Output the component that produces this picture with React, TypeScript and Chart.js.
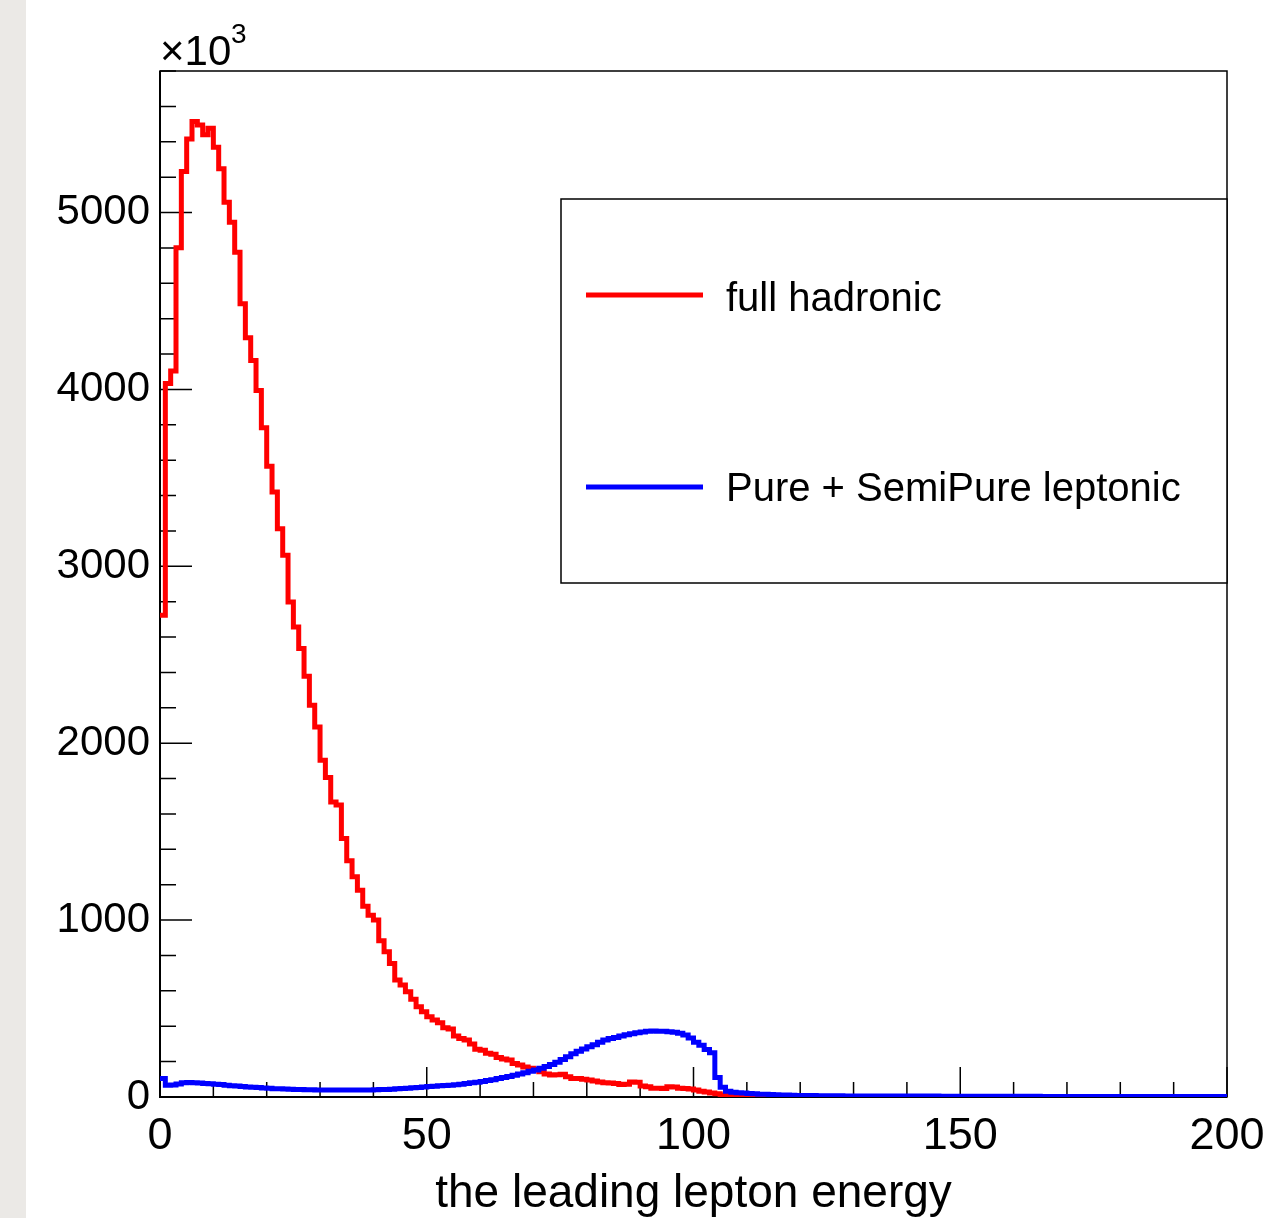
import React, { useEffect, useRef } from 'react';
import { Chart, registerables } from 'chart.js';

Chart.register(...registerables);

// Bin low edges (GeV), 200 bins of width 1 from 0 to 200, plus the final edge
const binEdges: number[] = Array.from({ length: 201 }, (_, i) => i);

// "full hadronic" bin contents (units of 10^3)
const fullHadronic: number[] = [
  2723, 4034, 4104, 4801, 5232, 5416, 5514, 5495, 5439, 5477,
  5369, 5247, 5058, 4945, 4776, 4484, 4292, 4164, 3994, 3783,
  3565, 3420, 3213, 3062, 2798, 2657, 2535, 2379, 2215, 2092,
  1904, 1806, 1668, 1650, 1462, 1335, 1245, 1169, 1079, 1028,
  1000, 883, 821, 755, 661, 633, 595, 552, 510, 482,
  454, 435, 420, 392, 385, 345, 331, 322, 300, 270,
  264, 247, 242, 224, 215, 209, 190, 181, 170, 162,
  156, 143, 130, 124, 126, 128, 115, 105, 104, 100,
  96, 90, 85, 81, 79, 77, 70, 72, 85, 84,
  62, 58, 50, 49, 48, 58, 57, 50, 48, 45,
  40, 32, 28, 22, 19, 12, 10, 7, 6, 5,
  4, 3, 3, 3, 2, 2, 2, 2, 1, 1,
  1, 1, 1, 1, 1, 1, 1, 1, 1, 1,
  1, 1, 1, 1, 1, 1, 1, 1, 1, 1,
  0, 0, 0, 0, 0, 0, 0, 0, 0, 0,
  0, 0, 0, 0, 0, 0, 0, 0, 0, 0,
  0, 0, 0, 0, 0, 0, 0, 0, 0, 0,
  0, 0, 0, 0, 0, 0, 0, 0, 0, 0,
  0, 0, 0, 0, 0, 0, 0, 0, 0, 0,
  0, 0, 0, 0, 0, 0, 0, 0, 0, 0,
];

// "Pure + SemiPure leptonic" bin contents (units of 10^3)
const leptonic: number[] = [
  105, 66, 68, 74, 80, 82, 81, 79, 77, 75,
  72, 70, 67, 64, 62, 59, 57, 55, 53, 51,
  49, 47, 46, 45, 44, 43, 42, 41, 41, 40,
  40, 39, 39, 39, 39, 39, 39, 40, 40, 40,
  41, 42, 43, 44, 46, 48, 50, 52, 54, 56,
  59, 61, 63, 65, 67, 69, 72, 76, 80, 84,
  88, 93, 98, 104, 110, 116, 123, 130, 137, 145,
  153, 162, 172, 184, 196, 212, 228, 245, 258, 272,
  284, 296, 310, 322, 330, 337, 345, 352, 358, 363,
  368, 371, 373, 372, 371, 369, 366, 360, 350, 334,
  310, 292, 268, 250, 110, 55, 32, 27, 24, 22,
  20, 18, 16, 15, 14, 13, 12, 11, 10, 9,
  8, 8, 8, 7, 7, 7, 7, 7, 6, 6,
  6, 6, 6, 6, 5, 5, 5, 5, 5, 5,
  5, 5, 5, 5, 5, 5, 4, 4, 4, 4,
  4, 4, 4, 4, 4, 4, 4, 4, 4, 4,
  4, 4, 4, 4, 4, 3, 3, 3, 3, 3,
  3, 3, 3, 3, 3, 3, 3, 3, 3, 3,
  3, 3, 3, 3, 3, 3, 3, 3, 3, 3,
  3, 3, 3, 3, 3, 3, 3, 3, 3, 3,
];

const seriesNames = ['full hadronic', 'Pure + SemiPure leptonic'];
const seriesColors = ['#ff0000', '#0000ff'];

// Axis ticks
const xTickValues: number[] = [0, 10, 20, 30, 40, 50, 60, 70, 80, 90, 100, 110, 120, 130, 140, 150, 160, 170, 180, 190, 200];
const xTickLabels: number[] = [0, 50, 100, 150, 200];
const yTickValues: number[] = [
  0, 200, 400, 600, 800, 1000, 1200, 1400, 1600, 1800, 2000, 2200, 2400, 2600, 2800,
  3000, 3200, 3400, 3600, 3800, 4000, 4200, 4400, 4600, 4800, 5000, 5200, 5400, 5600, 5800,
];
const yTickLabels: number[] = [0, 1000, 2000, 3000, 4000, 5000];

const FONT = '"Liberation Sans", Arial, Helvetica, sans-serif';

function histPoints(values: number[]) {
  return binEdges.map((x, i) => ({ x, y: values[Math.min(i, values.length - 1)] }));
}

const rootStyle = {
  id: 'rootStyle',
  beforeDatasetsDraw(chart: any) {
    const { ctx, chartArea: a, scales } = chart;
    const xs = scales.x;
    const ys = scales.y;
    ctx.save();
    ctx.strokeStyle = '#000';
    ctx.lineWidth = 1.5;
    ctx.beginPath();
    xTickValues.forEach((v) => {
      const px = xs.getPixelForValue(v);
      const len = xTickLabels.includes(v) ? 30 : 15;
      ctx.moveTo(px, a.bottom);
      ctx.lineTo(px, a.bottom - len);
    });
    yTickValues.forEach((v) => {
      const py = ys.getPixelForValue(v);
      const len = yTickLabels.includes(v) ? 32 : 16;
      ctx.moveTo(a.left, py);
      ctx.lineTo(a.left + len, py);
    });
    ctx.stroke();
    // frame
    ctx.lineWidth = 1.5;
    ctx.strokeRect(a.left, a.top, a.right - a.left, a.bottom - a.top);
    ctx.lineWidth = 2;
    ctx.beginPath();
    ctx.moveTo(a.left, a.top);
    ctx.lineTo(a.left, a.bottom);
    ctx.lineTo(a.right, a.bottom);
    ctx.stroke();
    ctx.restore();
  },
  afterDraw(chart: any) {
    const { ctx, chartArea: a } = chart;
    ctx.save();
    // exponent
    ctx.fillStyle = '#000';
    ctx.textBaseline = 'alphabetic';
    ctx.textAlign = 'left';
    ctx.font = `42px ${FONT}`;
    ctx.fillText('\u00d710', a.left, 65);
    ctx.font = `28px ${FONT}`;
    ctx.fillText('3', 231, 43);
    // legend
    ctx.fillStyle = '#fff';
    ctx.fillRect(561, 199, a.right - 561, 384);
    ctx.strokeStyle = '#000';
    ctx.lineWidth = 1.5;
    ctx.strokeRect(561, 199, a.right - 561, 384);
    const rows = [295, 487];
    const textRows = [300, 490];
    seriesNames.forEach((name, i) => {
      ctx.strokeStyle = seriesColors[i];
      ctx.lineWidth = 5;
      ctx.beginPath();
      ctx.moveTo(586, rows[i]);
      ctx.lineTo(703, rows[i]);
      ctx.stroke();
      ctx.fillStyle = '#000';
      ctx.font = `40px ${FONT}`;
      ctx.textBaseline = 'middle';
      ctx.textAlign = 'left';
      ctx.fillText(name, 726, textRows[i]);
    });
    ctx.restore();
  },
};

export default function App() {
  const canvasRef = useRef<HTMLCanvasElement | null>(null);

  useEffect(() => {
    const canvas = canvasRef.current;
    if (!canvas) return;
    const chart = new Chart(canvas, {
      type: 'line',
      data: {
        datasets: [
          {
            label: seriesNames[0],
            data: histPoints(fullHadronic),
            borderColor: seriesColors[0],
            borderWidth: 5,
            stepped: true,
            pointRadius: 0,
            fill: false,
            tension: 0,
            borderJoinStyle: 'miter',
            borderCapStyle: 'butt',
            order: 1,
          } as any,
          {
            label: seriesNames[1],
            data: histPoints(leptonic),
            borderColor: seriesColors[1],
            borderWidth: 5,
            stepped: true,
            pointRadius: 0,
            fill: false,
            tension: 0,
            borderJoinStyle: 'miter',
            borderCapStyle: 'butt',
            order: 0,
          } as any,
        ],
      },
      options: {
        responsive: false,
        animation: false,
        events: [],
        layout: { padding: { left: 0, top: 71, right: 43, bottom: 0 } },
        plugins: {
          legend: { display: false },
          tooltip: { enabled: false },
          title: { display: false },
        },
        scales: {
          x: {
            type: 'linear',
            min: 0,
            max: 200,
            grid: { display: false, drawTicks: false },
            border: { display: false },
            afterBuildTicks: (scale: any) => {
              scale.ticks = xTickValues.map((v) => ({ value: v }));
            },
            afterFit: (scale: any) => {
              scale.height = 121;
              scale.paddingLeft = 0;
              scale.paddingRight = 0;
            },
            ticks: {
              autoSkip: false,
              maxRotation: 0,
              padding: 13,
              color: '#000',
              font: { family: FONT, size: 45 },
              callback: (v: any) => (xTickLabels.includes(Number(v)) ? String(v) : ''),
            },
            title: {
              display: true,
              text: 'the leading lepton energy',
              color: '#000',
              font: { family: FONT, size: 46, lineHeight: 1.0 },
              padding: { top: 0, bottom: 1 },
            },
          },
          y: {
            type: 'linear',
            min: 0,
            max: 5800,
            grid: { display: false, drawTicks: false },
            border: { display: false },
            afterBuildTicks: (scale: any) => {
              scale.ticks = yTickValues.map((v) => ({ value: v }));
            },
            afterFit: (scale: any) => {
              scale.width = 160;
              scale.paddingTop = 0;
              scale.paddingBottom = 0;
            },
            ticks: {
              autoSkip: false,
              padding: 10,
              color: '#000',
              font: { family: FONT, size: 42 },
              callback: (v: any) => (yTickLabels.includes(Number(v)) ? String(v) : ''),
            },
          },
        },
      } as any,
      plugins: [rootStyle],
    });
    return () => chart.destroy();
  }, []);

  return (
    <div style={{ position: 'absolute', left: 0, top: 0, width: 1270, height: 1218, background: '#fff', overflow: 'hidden' }}>
      <div style={{ position: 'absolute', left: 0, top: 0, width: 26, height: 1218, background: '#ebe9e6' }} />
      <canvas
        ref={canvasRef}
        width={1270}
        height={1218}
        style={{ position: 'absolute', left: 0, top: 0, width: 1270, height: 1218 }}
      />
    </div>
  );
}
